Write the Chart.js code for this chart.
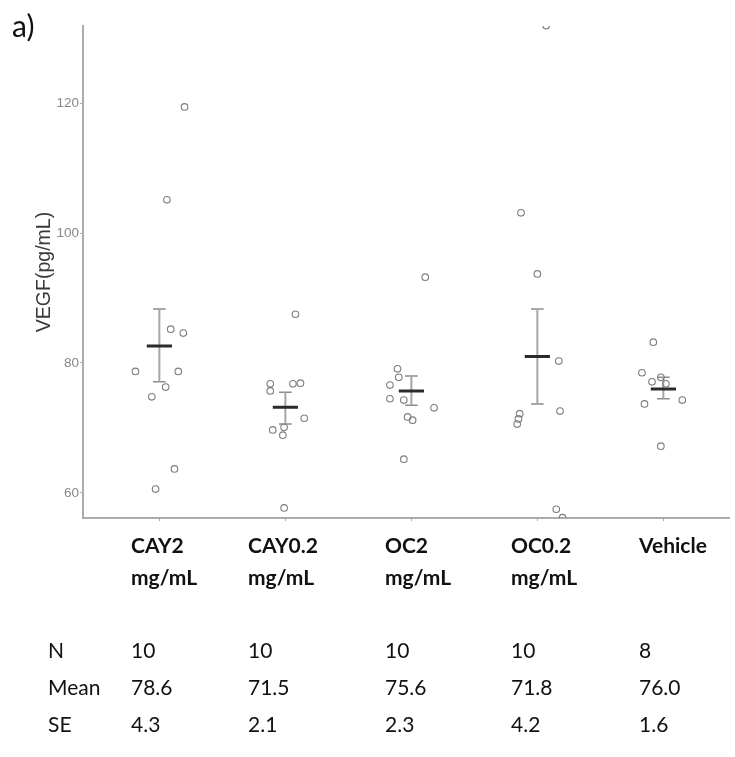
<!DOCTYPE html>
<html lang="en">
<head>
  <meta charset="utf-8">
  <title>VEGF</title>
  <script src="https://cdn.jsdelivr.net/npm/chart.js"></script>
  <style>
    body {
      margin: 0;
      background: #fff;
    }
    #wrap {
      position: relative;
      width: 735px;
      height: 757px;
    }
    canvas {
      display: block;
    }
    .txt {
      position: absolute;
      font-family: Lato, "Open Sans", sans-serif;
      font-size: 21px;
      line-height: 25px;
      color: #111;
      white-space: nowrap;
    }
    .cat {
      font-weight: bold;
    }
    #panel {
      font-size: 30px;
      line-height: 36px;
      left: 12px;
      top: 7px;
    }
  </style>
</head>
<body>
<div id="wrap">
  <canvas id="vegfChart" width="735" height="757"></canvas>
  <div class="txt" id="panel">a)</div>
</div>
<script>
// categories and table underneath
var categories = ['CAY2', 'CAY0.2', 'OC2', 'OC0.2', 'Vehicle'];
var catUnits = ['mg/mL', 'mg/mL', 'mg/mL', 'mg/mL', ''];
var rowNames = ['N', 'Mean', 'SE'];
var nValues = ['10', '10', '10', '10', '8'];
var meanValues = ['78.6', '71.5', '75.6', '71.8', '76.0'];
var seValues = ['4.3', '2.1', '2.3', '4.2', '1.6'];

// individual measurements (x = group position + jitter)
var cay2X = [1.20, 1.06, 1.09, 1.19, 0.81, 1.15, 1.05, 0.94, 1.12, 0.97];
var cay2Y = [119.4, 105.1, 85.2, 84.6, 78.7, 78.7, 76.3, 74.8, 63.7, 60.6];
var cay02X = [2.08, 1.88, 1.88, 2.06, 2.12, 2.15, 1.90, 1.99, 1.98, 1.99];
var cay02Y = [87.5, 76.8, 75.7, 76.8, 76.9, 71.5, 69.7, 70.1, 68.9, 57.7];
var oc2X = [3.11, 2.89, 2.90, 2.83, 2.83, 2.94, 3.18, 2.97, 3.01, 2.94];
var oc2Y = [93.2, 79.1, 77.8, 76.6, 74.5, 74.3, 73.1, 71.7, 71.2, 65.2];
var oc02X = [4.07, 3.87, 4.00, 4.17, 4.18, 3.86, 3.85, 3.84, 4.15, 4.20];
var oc02Y = [131.9, 103.1, 93.7, 80.3, 72.6, 72.2, 71.4, 70.6, 57.5, 56.2];
var vehX = [4.92, 4.83, 4.98, 4.91, 5.02, 5.15, 4.85, 4.98];
var vehY = [83.2, 78.5, 77.8, 77.1, 76.8, 74.3, 73.7, 67.2];

// mean line and error bar as drawn in the plot
var plotMean = [82.6, 73.2, 75.7, 81.0, 76.0];
var errUpper = [88.3, 75.5, 78.0, 88.3, 77.8];
var errLower = [77.1, 70.6, 73.5, 73.7, 74.5];

var yTicks = [60, 80, 100, 120];
var xPositions = [1, 2, 3, 4, 5];

// zip the points together
var allX = [cay2X, cay02X, oc2X, oc02X, vehX];
var allY = [cay2Y, cay02Y, oc2Y, oc02Y, vehY];
var points = [];
for (var g = 0; g < allX.length; g++) {
  for (var k = 0; k < allX[g].length; k++) {
    points.push({x: allX[g][k], y: allY[g][k]});
  }
}

// segments separated by null so one dataset draws many lines
var stems = [], caps = [], means = [];
var capHalf = 0.05, meanHalf = 0.1;
for (var i = 0; i < xPositions.length; i++) {
  var p = xPositions[i];
  stems.push({x: p, y: errLower[i]}, {x: p, y: errUpper[i]}, {x: p, y: null});
  caps.push({x: p - capHalf, y: errUpper[i]}, {x: p + capHalf, y: errUpper[i]}, {x: p, y: null});
  caps.push({x: p - capHalf, y: errLower[i]}, {x: p + capHalf, y: errLower[i]}, {x: p, y: null});
  means.push({x: p - meanHalf, y: plotMean[i]}, {x: p + meanHalf, y: plotMean[i]}, {x: p, y: null});
}

var axisGrey = '#ababab';

var ctx = document.getElementById('vegfChart').getContext('2d');
var vegfChart = new Chart(ctx, {
  type: 'scatter',
  data: {
    datasets: [
      {
        data: points,
        pointStyle: 'circle',
        pointRadius: 3.3,
        borderWidth: 1.1,
        borderColor: '#7d7d7d',
        backgroundColor: 'rgba(255,255,255,0)',
        clip: 0,
        order: 1
      },
      {
        data: stems,
        showLine: true,
        spanGaps: false,
        pointRadius: 0,
        borderColor: '#a6a6a6',
        borderWidth: 2,
        order: 3
      },
      {
        data: caps,
        showLine: true,
        spanGaps: false,
        pointRadius: 0,
        borderColor: '#8c8c8c',
        borderWidth: 1.5,
        order: 3
      },
      {
        data: means,
        showLine: true,
        spanGaps: false,
        pointRadius: 0,
        borderColor: '#2b2b2b',
        borderWidth: 3,
        order: 2
      }
    ]
  },
  options: {
    responsive: false,
    animation: false,
    layout: {
      padding: {top: 26, left: 0, right: 0, bottom: 0}
    },
    plugins: {
      legend: {display: false},
      tooltip: {enabled: false}
    },
    scales: {
      x: {
        type: 'linear',
        min: 0.394,
        max: 5.528,
        afterBuildTicks: function(scale) {
          scale.ticks = xPositions.map(function(v) { return {value: v}; });
        },
        afterFit: function(scale) {
          scale.height = 757 - 518;
        },
        ticks: {display: false},
        grid: {
          drawOnChartArea: false,
          drawTicks: true,
          tickLength: 3,
          color: axisGrey
        },
        border: {color: axisGrey, width: 2}
      },
      y: {
        type: 'linear',
        min: 56.15,
        max: 131.85,
        afterBuildTicks: function(scale) {
          scale.ticks = yTicks.map(function(v) { return {value: v}; });
        },
        afterFit: function(scale) {
          scale.width = 83;
        },
        ticks: {
          color: '#888',
          padding: 1,
          font: {family: 'Liberation Sans, Arial, sans-serif', size: 13.5}
        },
        grid: {
          drawOnChartArea: false,
          drawTicks: true,
          tickLength: 3,
          color: axisGrey
        },
        border: {color: axisGrey, width: 2},
        title: {
          display: true,
          text: 'VEGF(pg/mL)',
          color: '#3a3a3a',
          padding: {top: 33, bottom: 0},
          font: {family: 'Liberation Sans, Arial, sans-serif', size: 19.5}
        }
      }
    }
  }
});

// labels and summary table below the axis
var wrap = document.getElementById('wrap');
var colLeft = [131, 248, 385, 511, 639];
function addText(str, left, top, cls) {
  var d = document.createElement('div');
  d.className = 'txt' + (cls ? ' ' + cls : '');
  d.style.left = left + 'px';
  d.style.top = top + 'px';
  d.textContent = str;
  wrap.appendChild(d);
}
var rows = [nValues, meanValues, seValues];
var rowTop = [637, 674, 711];
for (var c = 0; c < categories.length; c++) {
  addText(categories[c], colLeft[c], 532, 'cat');
  if (catUnits[c]) addText(catUnits[c], colLeft[c], 564, 'cat');
  for (var r = 0; r < rows.length; r++) {
    addText(rows[r][c], colLeft[c], rowTop[r]);
  }
}
for (var r2 = 0; r2 < rowNames.length; r2++) {
  addText(rowNames[r2], 48, rowTop[r2]);
}
</script>
</body>
</html>
